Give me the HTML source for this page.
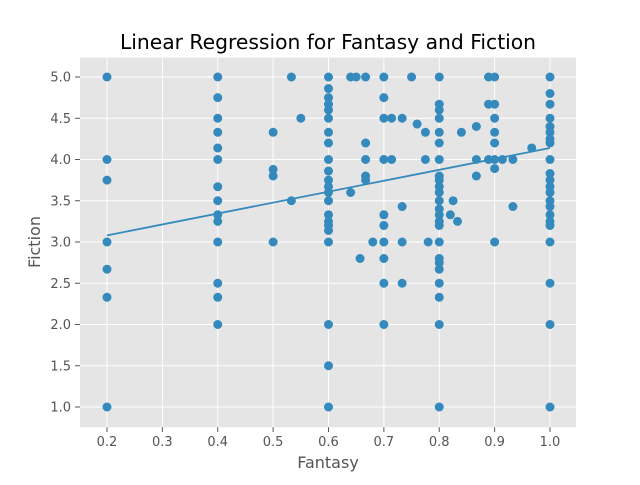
<!DOCTYPE html>
<html><head><meta charset="utf-8"><style>
body{margin:0;background:#fff;width:640px;height:480px;overflow:hidden}
svg text{font-family:"DejaVu Sans","Liberation Sans",sans-serif}
</style></head><body>
<svg id="chart" width="640" height="480" xmlns="http://www.w3.org/2000/svg">
<rect x="0" y="0" width="640" height="480" fill="#fff"/>
<rect x="80" y="57.6" width="496" height="369.6" fill="#E5E5E5"/>
<g id="grid"></g><g id="ticks"></g><g id="points"></g><g id="line"></g>
<text x="328" y="49" text-anchor="middle" font-size="20.3" fill="#000">Linear Regression for Fantasy and Fiction</text>
<text x="328" y="468" text-anchor="middle" font-size="16" fill="#555">Fantasy</text>
<text x="40" y="242" text-anchor="middle" font-size="16" fill="#555" transform="rotate(-90 40 242)">Fiction</text>
</svg>
<script>
const xTicks=[0.2,0.3,0.4,0.5,0.6,0.7,0.8,0.9,1.0];
const yTicks=[1.0,1.5,2.0,2.5,3.0,3.5,4.0,4.5,5.0];
const groupX=[0.2,0.4,0.5,0.533,0.55,0.6,0.64,0.65,0.657,0.667,0.68,0.7,0.714,0.733,0.75,0.76,0.775,0.78,0.8,0.82,0.825,0.833,0.84,0.867,0.889,0.9,0.914,0.933,0.967,1.0];
const groupY=[
[5,4,3.75,3,2.67,2.33,1],
[5,4.75,4.5,4.33,4.14,4,3.67,3.5,3.33,3.25,3,2.5,2.33,2],
[4.33,3.88,3.8,3],
[5,3.5],[4.5],
[5,4.86,4.75,4.67,4.6,4.5,4.33,4.2,4,3.86,3.75,3.67,3.6,3.5,3.33,3.25,3.2,3.14,3,2,1.5,1],
[5,3.6],[5],[2.8],[5,4.2,4,3.8,3.75],[3],
[5,4.75,4.5,4,3.33,3.2,3,2.8,2.5,2],
[4.5,4],[4.5,3.43,3,2.5],[5],[4.43],[4.33,4],[3],
[5,4.67,4.6,4.5,4.33,4.2,4,3.8,3.75,3.67,3.6,3.5,3.4,3.33,3.25,3.2,3,2.8,2.75,2.67,2.5,2.33,2,1],
[3.33],[3.5],[3.25],[4.33],[4.4,4,3.8],[5,4.67,4],
[5,4.67,4.5,4.33,4.2,4,3.89,3],[4],[4,3.43],[4.14],
[5,4.8,4.67,4.5,4.4,4.33,4.25,4.2,4,3.83,3.75,3.67,3.6,3.5,3.43,3.33,3.25,3.2,3,2.5,2,1]];
const lineX=[0.2,1.0];
const lineY=[3.08,4.14];
const X=v=>107+(v-0.2)*553.75, Y=v=>407-(v-1)*82.5;
const NS="http://www.w3.org/2000/svg";
function mk(t,a,p){const e=document.createElementNS(NS,t);for(const k in a)e.setAttribute(k,a[k]);p.appendChild(e);return e;}
const g=document.getElementById('grid'),tk=document.getElementById('ticks'),pt=document.getElementById('points'),ln=document.getElementById('line');
xTicks.forEach(v=>{const x=X(v);
const l=mk('line',{x1:x,x2:x,y1:57.6,y2:427.2,stroke:'#fff','stroke-width':1},g);

mk('line',{x1:x,x2:x,y1:427.2,y2:432,stroke:'#555','stroke-width':1},tk);
const t=mk('text',{x:x,y:446,'text-anchor':'middle','font-size':13,fill:'#555'},tk);t.textContent=v.toFixed(1);
});
yTicks.forEach(v=>{const y=Y(v);
const l=mk('line',{x1:80,x2:576,y1:y,y2:y,stroke:'#fff','stroke-width':1},g);

mk('line',{x1:75,x2:80,y1:y,y2:y,stroke:'#555','stroke-width':1},tk);
const t=mk('text',{x:71,y:y+4.5,'text-anchor':'end','font-size':13,fill:'#555'},tk);t.textContent=v.toFixed(1);
});
groupX.forEach((xv,i)=>groupY[i].forEach(yv=>{
const c=mk('circle',{cx:X(xv),cy:Y(yv),r:4.5,fill:'#348ABD'},pt);
}));
const rl=mk('line',{x1:X(lineX[0]),y1:Y(lineY[0]),x2:X(lineX[1]),y2:Y(lineY[1]),stroke:'#348ABD','stroke-width':1.8},ln);

</script>
</body></html>
